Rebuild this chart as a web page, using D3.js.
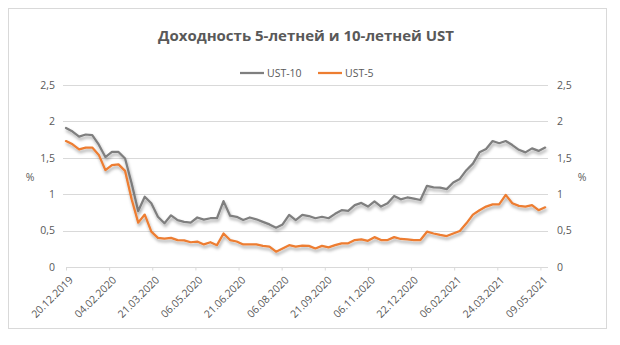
<!DOCTYPE html>
<html>
<head>
<meta charset="utf-8">
<script src="https://cdn.jsdelivr.net/npm/d3@7"></script>
<style>
  html, body { margin: 0; padding: 0; background: #ffffff; }
  svg { display: block; }
  text { font-family: "Open Sans", "Noto Sans", sans-serif; fill: #595959; }
</style>
</head>
<body>
<svg id="chart" width="620" height="345"></svg>
<script>
// Weekly observation dates (Fridays)
const dates = [
  "20.12.2019","27.12.2019",
  "03.01.2020","10.01.2020","17.01.2020","24.01.2020","31.01.2020",
  "07.02.2020","14.02.2020","21.02.2020","28.02.2020",
  "06.03.2020","13.03.2020","20.03.2020","27.03.2020",
  "03.04.2020","10.04.2020","17.04.2020","24.04.2020",
  "01.05.2020","08.05.2020","15.05.2020","22.05.2020","29.05.2020",
  "05.06.2020","12.06.2020","19.06.2020","26.06.2020",
  "03.07.2020","10.07.2020","17.07.2020","24.07.2020","31.07.2020",
  "07.08.2020","14.08.2020","21.08.2020","28.08.2020",
  "04.09.2020","11.09.2020","18.09.2020","25.09.2020",
  "02.10.2020","09.10.2020","16.10.2020","23.10.2020","30.10.2020",
  "06.11.2020","13.11.2020","20.11.2020","27.11.2020",
  "04.12.2020","11.12.2020","18.12.2020","25.12.2020",
  "01.01.2021","08.01.2021","15.01.2021","22.01.2021","29.01.2021",
  "05.02.2021","12.02.2021","19.02.2021","26.02.2021",
  "05.03.2021","12.03.2021","19.03.2021","26.03.2021",
  "02.04.2021","09.04.2021","16.04.2021","23.04.2021","30.04.2021",
  "07.05.2021","14.05.2021"
];

// 10-year Treasury yield, %
const ust10 = [
  1.91, 1.86,
  1.79, 1.82, 1.81, 1.68, 1.51,
  1.58, 1.58, 1.49, 1.15,
  0.77, 0.965, 0.875, 0.69,
  0.60, 0.71, 0.645, 0.62,
  0.61, 0.68, 0.65, 0.67, 0.67,
  0.905, 0.705, 0.69, 0.645,
  0.68, 0.655, 0.62, 0.585, 0.54,
  0.585, 0.715, 0.645, 0.715,
  0.70, 0.67, 0.69, 0.67,
  0.73, 0.78, 0.77, 0.85, 0.88,
  0.83, 0.90, 0.83, 0.875,
  0.975, 0.93, 0.955, 0.94,
  0.92, 1.115, 1.095, 1.09, 1.07,
  1.16, 1.21, 1.33, 1.42,
  1.575, 1.62, 1.73, 1.70,
  1.73, 1.675, 1.61, 1.575, 1.63,
  1.595, 1.64
];

// 5-year Treasury yield, %
const ust5 = [
  1.73, 1.685,
  1.615, 1.64, 1.64, 1.54, 1.33,
  1.40, 1.41, 1.32, 0.93,
  0.61, 0.72, 0.485, 0.40,
  0.39, 0.40, 0.37, 0.365,
  0.34, 0.35, 0.31, 0.34, 0.30,
  0.46, 0.37, 0.35, 0.31,
  0.31, 0.31, 0.29, 0.28, 0.21,
  0.255, 0.30, 0.28, 0.295,
  0.29, 0.255, 0.29, 0.27,
  0.30, 0.325, 0.325, 0.37, 0.38,
  0.36, 0.41, 0.37, 0.37,
  0.41, 0.385, 0.38, 0.37,
  0.37, 0.485, 0.46, 0.44, 0.425,
  0.46, 0.495, 0.60, 0.72,
  0.78, 0.83, 0.86, 0.86,
  0.99, 0.875, 0.84, 0.83, 0.85,
  0.78, 0.82
];

// Axis tick labels
const xTickLabels = [
  "20.12.2019","04.02.2020","21.03.2020","06.05.2020","21.06.2020","06.08.2020",
  "21.09.2020","06.11.2020","22.12.2020","06.02.2021","24.03.2021","09.05.2021"
];
const yTicks = [0, 0.5, 1, 1.5, 2, 2.5];

const seriesNames = ["UST-10", "UST-5"];
const seriesColors = ["#7f7f7f", "#ed7d31"];

const parse = d3.timeParse("%d.%m.%Y");
const fmtY = v => String(v).replace(".", ",");

const svg = d3.select("#chart");

// Outer chart frame
svg.append("rect")
  .attr("x", 8.5).attr("y", 8.5)
  .attr("width", 598).attr("height", 320)
  .attr("fill", "#ffffff")
  .attr("stroke", "#d9d9d9").attr("stroke-width", 1);

const plot = { left: 63, right: 548, top: 85, bottom: 267 };

const x = d3.scaleTime()
  .domain([parse("20.12.2019"), parse("16.05.2021")])
  .range([66, 547]);

const y = d3.scaleLinear()
  .domain([0, 2.5])
  .range([plot.bottom, plot.top]);

// Drop shadow used by the lines
const defs = svg.append("defs");
const f = defs.append("filter").attr("id", "shadow")
  .attr("x", "-5%").attr("y", "-20%").attr("width", "110%").attr("height", "140%");
f.append("feDropShadow")
  .attr("dx", 1).attr("dy", 2.5).attr("stdDeviation", 1.6)
  .attr("flood-color", "#000000").attr("flood-opacity", 0.35);

// Horizontal gridlines
svg.append("g")
  .selectAll("line")
  .data(yTicks.filter(d => d > 0))
  .join("line")
  .attr("x1", plot.left).attr("x2", plot.right)
  .attr("y1", d => Math.round(y(d)) + 0.5).attr("y2", d => Math.round(y(d)) + 0.5)
  .attr("stroke", "#d9d9d9").attr("stroke-width", 1);

// Left and right value axes (labels only)
const yAxisL = d3.axisLeft(y).tickValues(yTicks).tickFormat(fmtY).tickSize(0).tickPadding(8);
const gl = svg.append("g").attr("transform", `translate(${plot.left},0)`).call(yAxisL);
gl.select(".domain").remove();
gl.selectAll("text").attr("font-size", 10.5).style("fill", "#595959")
  .attr("font-family", "'Open Sans', sans-serif");

const yAxisR = d3.axisRight(y).tickValues(yTicks).tickFormat(fmtY).tickSize(0).tickPadding(9);
const gr = svg.append("g").attr("transform", `translate(${plot.right},0)`).call(yAxisR);
gr.select(".domain").remove();
gr.selectAll("text").attr("font-size", 10.5).style("fill", "#595959")
  .attr("font-family", "'Open Sans', sans-serif");

// Axis titles
svg.append("text").attr("x", 30).attr("y", 181).attr("text-anchor", "middle")
  .attr("font-size", 10.5).style("fill", "#595959").text("%");
svg.append("text").attr("x", 582).attr("y", 181).attr("text-anchor", "middle")
  .attr("font-size", 10.5).style("fill", "#595959").text("%");

// Category (date) axis
const xTickDates = xTickLabels.map(parse);
const xAxis = d3.axisBottom(x).tickValues(xTickDates).tickFormat(d3.timeFormat("%d.%m.%Y"))
  .tickSize(3).tickSizeOuter(0);
const gx = svg.append("g").attr("transform", `translate(0,${Math.round(y(0)) + 0.5})`).call(xAxis);
gx.select(".domain").attr("stroke", "#d9d9d9").attr("d", `M${plot.left + 3},0H${plot.right}`);
gx.selectAll(".tick line").attr("stroke", "#d9d9d9");
gx.selectAll("text")
  .attr("font-size", 10.5).style("fill", "#595959")
  .attr("font-family", "'Open Sans', sans-serif")
  .attr("text-anchor", "end")
  .attr("dy", 0)
  .attr("transform", "translate(3,9) rotate(-45)");

// Series lines
const pts = dates.map(parse);
const series = [ust10, ust5];
const line = d3.line().x((d, i) => x(pts[i])).y(d => y(d));

svg.append("g")
  .selectAll("path")
  .data(series)
  .join("path")
  .attr("d", d => line(d))
  .attr("fill", "none")
  .attr("stroke", (d, i) => seriesColors[i])
  .attr("stroke-width", 2.25)
  .attr("stroke-linejoin", "round")
  .attr("stroke-linecap", "round")
  .attr("filter", "url(#shadow)");

// Title
svg.append("text")
  .attr("x", 306).attr("y", 41)
  .attr("text-anchor", "middle")
  .attr("font-size", 15).attr("font-weight", "bold")
  .style("fill", "#595959")
  .text("Доходность 5-летней и 10-летней UST");

// Legend
const legend = svg.append("g");
const legendItems = [
  { name: seriesNames[0], color: seriesColors[0], x1: 240, x2: 264, tx: 267 },
  { name: seriesNames[1], color: seriesColors[1], x1: 318, x2: 342, tx: 345 }
];
legendItems.forEach(it => {
  legend.append("line")
    .attr("x1", it.x1).attr("x2", it.x2).attr("y1", 73).attr("y2", 73)
    .attr("stroke", it.color).attr("stroke-width", 2.25);
  legend.append("text")
    .attr("x", it.tx).attr("y", 77)
    .attr("font-size", 10.5).style("fill", "#595959").text(it.name);
});
</script>
</body>
</html>
